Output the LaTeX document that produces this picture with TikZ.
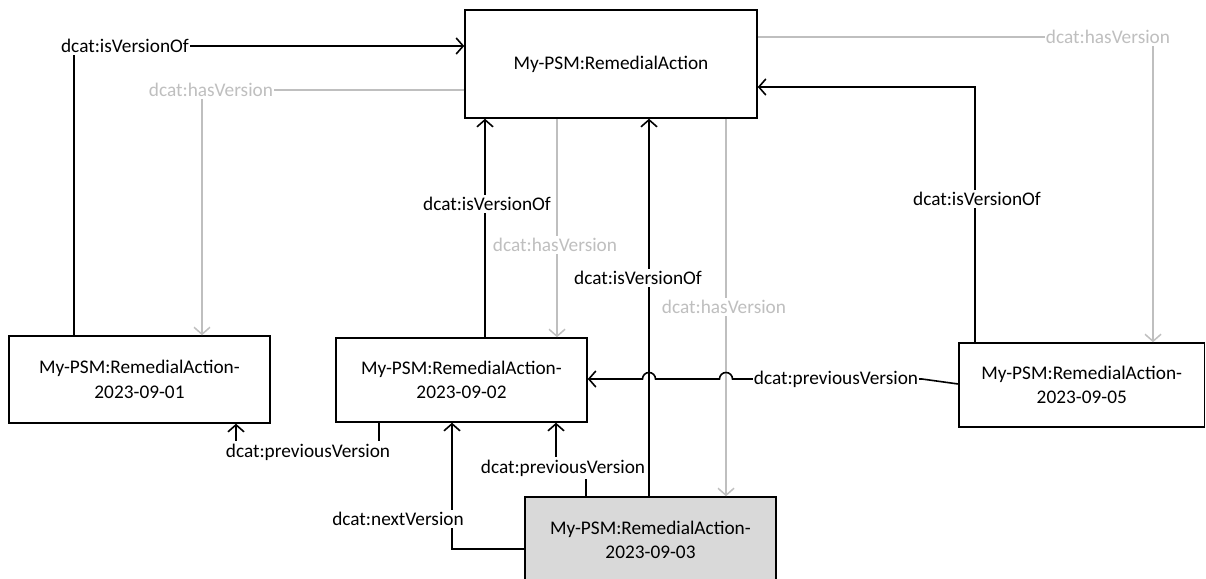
\documentclass[tikz,border=0pt]{standalone}
\usepackage{fontspec}
\setmainfont{Carlito}
\usetikzlibrary{arrows.meta}
\definecolor{linegray}{HTML}{BFBFBF}
\definecolor{boxgray}{HTML}{D9D9D9}

\begin{document}
\begin{tikzpicture}[x=1pt,y=-1pt,
  every node/.style={font=\fontsize{19.3}{24.5}\selectfont},
  entity/.style={draw=black, line width=1.5pt, align=center, inner sep=0pt, fill=white},
  blk/.style={draw=black, line width=1.6pt},
  gry/.style={draw=linegray, line width=1.5pt},
  arr/.style={-{Straight Barb[length=7pt,width=16pt]}},
  lbl/.style={fill=white, inner xsep=1pt, inner ysep=2.5pt},
  glbl/.style={lbl, text=linegray}]
\clip (0,0) rectangle (1206,578);

% resources
\node[entity, minimum width=292pt, minimum height=108pt] (top) at (611,64) {My-PSM:RemedialAction};
\node[entity, minimum width=261pt, minimum height=87pt] (b01) at (139.5,379.5) {My-PSM:RemedialAction-\\2023-09-01};
\node[entity, minimum width=251pt, minimum height=84pt] (b02) at (461.5,380) {My-PSM:RemedialAction-\\2023-09-02};
\node[entity, fill=boxgray, minimum width=251pt, minimum height=86pt] (b03) at (650.5,540) {My-PSM:RemedialAction-\\2023-09-03};
\node[entity, minimum width=245.5pt, minimum height=84pt] (b05) at (1081.75,385) {My-PSM:RemedialAction-\\2023-09-05};

% bend points
\coordinate (k1) at (74,46);
\coordinate (k2) at (202,90);
\coordinate (k3) at (485,0);
\coordinate (k4) at (557,0);
\coordinate (k5) at (649,0);
\coordinate (k6) at (726,0);
\coordinate (k7) at (975,87);
\coordinate (k8) at (1153,37);
\coordinate (k9a) at (379,452);
\coordinate (k9b) at (236,452);
\coordinate (k10) at (452,549);
\coordinate (k11a) at (586,468);
\coordinate (k11b) at (556,468);
\coordinate (k12) at (922,379);

% isVersionOf links
\draw[blk,arr] (b01.north -| k1) |- (top.west |- k1);
\draw[blk,arr] (b02.north -| k3) -- (top.south -| k3);
\draw[blk,arr] (b03.north -| k5) -- (top.south -| k5);
\draw[blk,arr] (b05.north -| k7) |- (top.east |- k7);

% hasVersion links
\draw[gry,arr] (top.west |- k2) -| (b01.north -| k2);
\draw[gry,arr] (top.south -| k4) -- (b02.north -| k4);
\draw[gry,arr] (top.south -| k6) -- (b03.north -| k6);
\draw[gry,arr] (top.east |- k8) -| (b05.north -| k8);

% previous / next version links
\draw[blk,arr] (b02.south -| k9a) -- (k9a) -- (k9b) -- (b01.south -| k9b);
\draw[blk,arr] (b03.west |- k10) -| (b02.south -| k10);
\draw[blk,arr] (b03.north -| k11a) -- (k11a) -- (k11b) -- (b02.south -| k11b);
\draw[blk,arr] (b05.west |- 0,384) -- (k12) -- (732.5,379)
  arc[start angle=0, end angle=180, radius=6.5pt] -- (655.5,379)
  arc[start angle=0, end angle=180, radius=6.5pt] -- (b02.east |- k12);

% labels
\node[lbl] (l1) at (125,46) {dcat:isVersionOf};
\node[glbl] (l2) at (211,90) {dcat:hasVersion};
\node[lbl] (l3) at (487,204) {dcat:isVersionOf};
\node[glbl] (l4) at (555,245) {dcat:hasVersion};
\node[lbl] (l5) at (638,278) {dcat:isVersionOf};
\node[glbl] (l6) at (724,307) {dcat:hasVersion};
\node[lbl] (l7) at (977,199) {dcat:isVersionOf};
\node[glbl] (l8) at (1108,37) {dcat:hasVersion};
\node[lbl] (l9) at (308,452) {dcat:previousVersion};
\node[lbl] (l10) at (398,519) {dcat:nextVersion};
\node[lbl] (l11) at (563,468) {dcat:previousVersion};
\node[lbl] (l12) at (836,379) {dcat:previousVersion};
\end{tikzpicture}
\end{document}
